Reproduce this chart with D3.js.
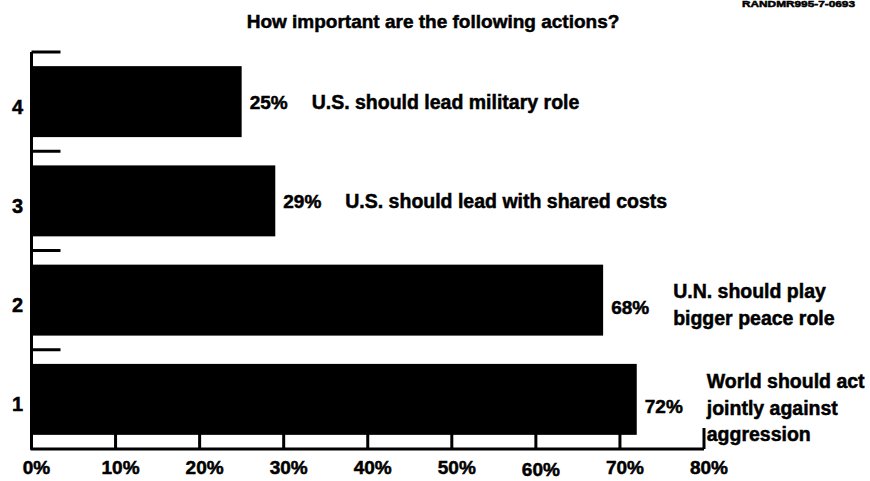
<!DOCTYPE html>
<html>
<head>
<meta charset="utf-8">
<script src="https://cdn.jsdelivr.net/npm/d3@7"></script>
<style>
  body { margin: 0; background: #fff; }
  svg { display: block; }
  text { font-family: "Liberation Sans", Arial, Helvetica, sans-serif; font-weight: bold; fill: #000; stroke: #000; stroke-width: 0.5px; }
</style>
</head>
<body>
<script>
// данные графика
const categories = [4, 3, 2, 1];
const values = [25, 29, 68, 72];
const descriptions = [
  ["U.S. should lead military role"],
  ["U.S. should lead with shared costs"],
  ["U.N. should play", "bigger peace role"],
  ["World should act", "jointly against", "aggression"]
];
const xTicks = [0, 10, 20, 30, 40, 50, 60, 70, 80];
const title = "How important are the following actions?";
const stamp = "RANDMR995-7-0693";

const width = 870, height = 481;

const svg = d3.select("body").append("svg")
    .attr("width", width)
    .attr("height", height);

const x = d3.scaleLinear().domain([0, 80]).range([31.5, 704]);
const y = d3.scaleBand().domain(categories).range([52, 449])
    .paddingInner(0.285).paddingOuter(0.1425);

const rows = categories.map((c, i) => ({cat: c, value: values[i], lines: descriptions[i]}));

// заголовок и штамп в углу
svg.append("text")
    .attr("x", 433).attr("y", 28)
    .attr("text-anchor", "middle")
    .style("font-size", "19px")
    .text(title);

svg.append("text")
    .attr("x", 742).attr("y", 7)
    .attr("textLength", 113).attr("lengthAdjust", "spacingAndGlyphs")
    .style("font-size", "9px")
    .text(stamp);

// бары
svg.append("g")
  .selectAll("rect")
  .data(rows)
  .join("rect")
    .attr("x", x(0))
    .attr("y", d => y(d.cat))
    .attr("width", d => x(d.value) - x(0))
    .attr("height", y.bandwidth())
    .attr("fill", "#000");

// оси
const axis = svg.append("g")
    .attr("fill", "none")
    .attr("stroke", "#000")
    .attr("stroke-width", 3);

axis.append("path")
    .attr("d", `M${x(0)},${y.range()[0]}V${y.range()[1]}H${x(80)}`)
    .attr("stroke-linejoin", "round");

// засечки слева — на границах полос
const bounds = categories.map(c => y(c) - y.step() * y.paddingInner() / 2);
axis.selectAll("line.yt")
  .data(bounds)
  .join("line")
    .attr("class", "yt")
    .attr("x1", x(0)).attr("x2", x(0) + 29)
    .attr("y1", d => d).attr("y2", d => d);

// засечки снизу — вверх
axis.selectAll("line.xt")
  .data(xTicks.filter(d => d > 0))
  .join("line")
    .attr("class", "xt")
    .attr("x1", d => x(d)).attr("x2", d => x(d))
    .attr("y1", y.range()[1])
    .attr("y2", d => y.range()[1] - (d === 80 ? 21 : 15));

svg.append("g")
  .selectAll("text")
  .data(xTicks)
  .join("text")
    .attr("x", d => x(d) + 5)
    .attr("y", d => 474 + (d === 60 ? 2 : 0))
    .attr("text-anchor", "middle")
    .style("font-size", "19px")
    .text(d => d + "%");

svg.append("g")
  .selectAll("text")
  .data(categories)
  .join("text")
    .attr("x", 17.5)
    .attr("y", d => y(d) + y.bandwidth() / 2 + 12)
    .attr("text-anchor", "middle")
    .style("font-size", "20px")
    .text(d => d);

// подписи значений и описания
const labels = svg.append("g")
  .selectAll("g")
  .data(rows)
  .join("g");

labels.append("text")
    .attr("x", d => x(d.value) + 8)
    .attr("y", d => y(d.cat) + y.bandwidth() / 2 + (d.lines.length > 1 ? 14 : 7))
    .style("font-size", "19px")
    .text(d => d.value + "%");

labels.append("text")
    .style("font-size", "19.5px")
  .selectAll("tspan")
  .data(d => d.lines.map((t, i) => ({t, i, d})))
  .join("tspan")
    .attr("x", e => x(e.d.value) + 70)
    .attr("y", e => y(e.d.cat) + y.bandwidth() / 2 + 7 - (e.d.lines.length - 1) * 9 + e.i * 26.5)
    .text(e => e.t);
</script>
</body>
</html>
